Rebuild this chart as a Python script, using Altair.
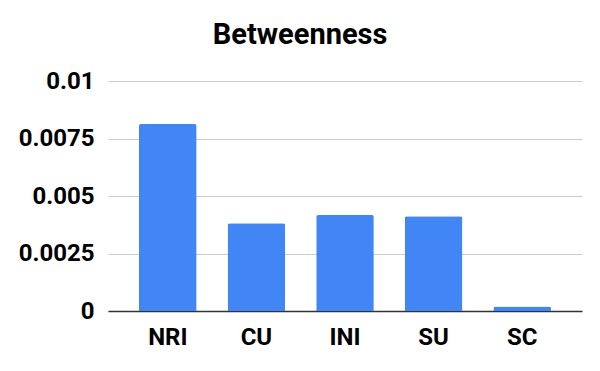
import altair as alt
import pandas as pd

categories = ["NRI", "CU", "INI", "SU", "SC"]
values = [0.00813, 0.00382, 0.00417, 0.00412, 0.0002]
y_ticks = [0, 0.0025, 0.005, 0.0075, 0.01]

df = pd.DataFrame({"node": categories, "betweenness": values})

chart = alt.Chart(df).mark_bar(
    color="#4285F4", cornerRadiusTopLeft=2, cornerRadiusTopRight=2
).encode(
    x=alt.X("node:N", sort=categories, title=None,
            scale=alt.Scale(paddingInner=0.35, paddingOuter=0.35),
            axis=alt.Axis(labelAngle=0, ticks=False, domainColor="#333333",
                          domainWidth=1.5, labelPadding=14, labelFontSize=24,
                          labelFont="Roboto", labelFontWeight="bold",
                          labelColor="#000000")),
    y=alt.Y("betweenness:Q", title=None,
            scale=alt.Scale(domain=[0, 0.01], nice=False),
            axis=alt.Axis(values=y_ticks, format=".4~f", ticks=False, domain=False,
                          gridColor="#cccccc", labelPadding=14, labelFontSize=24,
                          labelFont="Roboto", labelFontWeight="bold",
                          labelColor="#000000")),
).properties(
    width=474,
    height=230,
    title=alt.TitleParams("Betweenness", frame="bounds", anchor="middle",
                          font="Roboto", fontSize=29, fontWeight="bold",
                          color="#000000", offset=19),
    padding={"left": 10, "top": 13, "right": 5, "bottom": 5},
).configure_view(stroke=None)

chart.save("out.html", embed_options={"renderer": "svg", "actions": False})
